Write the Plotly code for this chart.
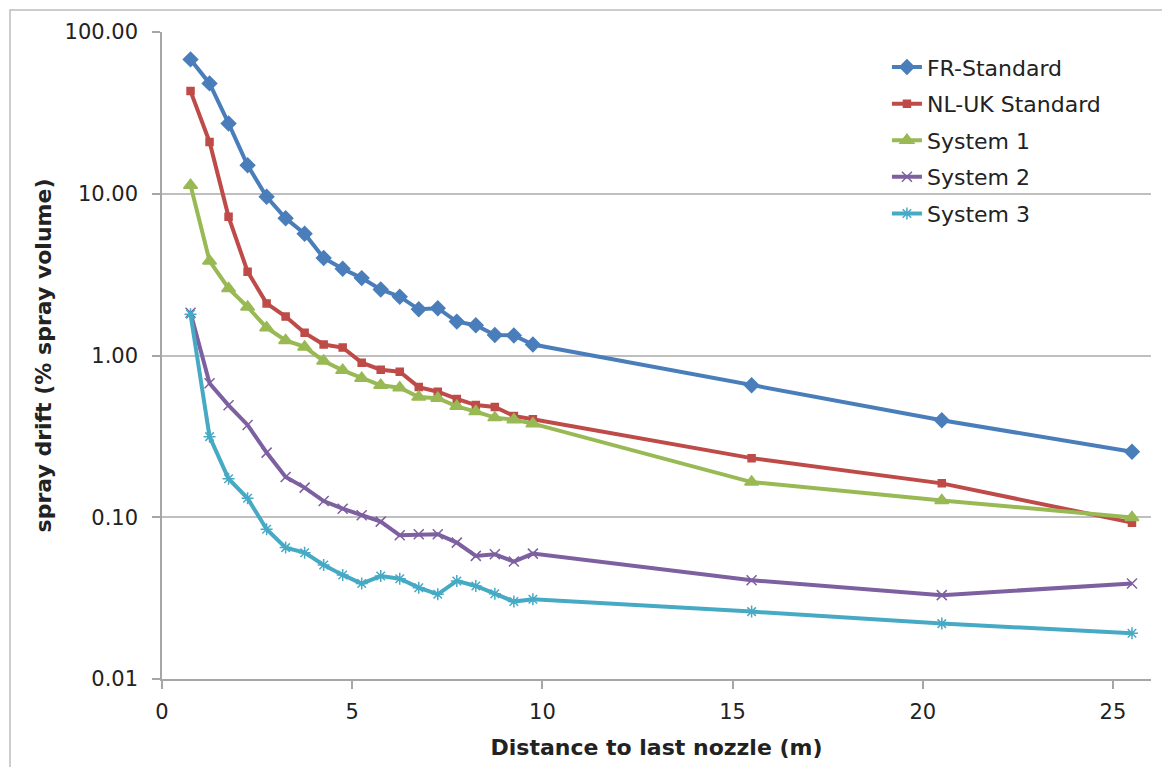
import plotly.graph_objects as go

x = [0.75, 1.25, 1.75, 2.25, 2.75, 3.25, 3.75, 4.25, 4.75, 5.25, 5.75, 6.25,
     6.75, 7.25, 7.75, 8.25, 8.75, 9.25, 9.75, 15.5, 20.5, 25.5]

fr_standard = [67.7, 48.1, 27.2, 15.0, 9.58, 7.05, 5.66, 4.01, 3.44, 3.01, 2.56, 2.31,
               1.93, 1.96, 1.62, 1.54, 1.34, 1.33, 1.17, 0.654, 0.398, 0.254]
nl_uk_standard = [43.1, 20.9, 7.2, 3.30, 2.10, 1.74, 1.38, 1.17, 1.12, 0.903, 0.817, 0.794,
                  0.638, 0.597, 0.539, 0.494, 0.481, 0.423, 0.403, 0.232, 0.162, 0.0926]
system_1 = [11.3, 3.84, 2.60, 1.995, 1.485, 1.24, 1.13, 0.925, 0.81, 0.723, 0.654, 0.632,
            0.554, 0.544, 0.485, 0.45, 0.413, 0.401, 0.379, 0.165, 0.127, 0.0998]
system_2 = [1.84, 0.673, 0.492, 0.372, 0.251, 0.1775, 0.1525, 0.126, 0.113, 0.1028, 0.094, 0.0774,
            0.0785, 0.0785, 0.0697, 0.0577, 0.059, 0.0532, 0.0596, 0.0408, 0.033, 0.0389]
system_3 = [1.80, 0.315, 0.173, 0.131, 0.0843, 0.0649, 0.0604, 0.0507, 0.044, 0.0389, 0.0433, 0.0417,
            0.0367, 0.0334, 0.0404, 0.0376, 0.0337, 0.0301, 0.0311, 0.0261, 0.022, 0.0192]

y_tickvals = [0.01, 0.1, 1, 10, 100]
y_ticktext = ["0.01", "0.10", "1.00", "10.00", "100.00"]

series = [
    ("FR-Standard", fr_standard, "#4A7EBB", "diamond", 11),
    ("NL-UK Standard", nl_uk_standard, "#BE4B48", "square", 7),
    ("System 1", system_1, "#98B954", "triangle-up", 12),
    ("System 2", system_2, "#7D60A0", "x-thin-open", 10),
    ("System 3", system_3, "#46AAC5", "asterisk-open", 10),
]

fig = go.Figure()
for i, (name, vals, color, sym, size) in enumerate(series):
    fig.add_trace(go.Scatter(
        x=x, y=vals, name=name, mode="lines+markers",
        legendgroup=f"g{i}",
        line=dict(color=color, width=4),
        marker=dict(symbol=sym, size=size, color=color,
                    line=dict(color=color, width=1.5)),
    ))

font_family = "DejaVu Sans, Verdana, sans-serif"

# page body has an 8px margin, so the figure is offset by 8px
L, R, T, B = 154, 27, 24, 96
PW = 1170 - L - R
PH = 767 - T - B

fig.update_layout(
    width=1170, height=767,
    margin=dict(l=L, r=R, t=T, b=B),
    paper_bgcolor="white", plot_bgcolor="white",
    font=dict(family=font_family, size=21, color="#222222"),
    showlegend=True,
    legend=dict(
        x=0.733, y=0.978, xanchor="left", yanchor="top",
        bgcolor="rgba(0,0,0,0)", borderwidth=0,
        font=dict(size=22, color="#222222"),
        tracegroupgap=5,
    ),
    xaxis=dict(
        range=[0, 26], dtick=5, tick0=0,
        showgrid=False, zeroline=False,
        showline=True, linecolor="#A6A6A6", linewidth=1.5,
        ticks="outside", ticklen=8, tickcolor="#A6A6A6", tickwidth=1.5,
        ticklabelstandoff=5,
        tickfont=dict(size=21, color="#222222"),
        title=dict(text="<b>Distance to last nozzle (m)</b>",
                   font=dict(size=22, color="#222222"), standoff=17),
    ),
    yaxis=dict(
        type="log", range=[-2, 2],
        tickvals=y_tickvals, ticktext=y_ticktext,
        showgrid=True, gridcolor="#BFBFBF", gridwidth=1.5,
        zeroline=False,
        showline=True, linecolor="#A6A6A6", linewidth=1.5,
        ticks="outside", ticklen=8, tickcolor="#A6A6A6", tickwidth=1.5,
        ticklabelstandoff=10,
        tickfont=dict(size=21, color="#222222"),
        title=dict(text="<b>spray drift (% spray volume)</b>",
                   font=dict(size=22, color="#222222"), standoff=7),
    ),
    shapes=[
        dict(type="rect", xref="paper", yref="paper",
             x0=(2 - L) / PW, x1=(1200 - L) / PW,
             y0=-(800 - T - PH) / PH, y1=(T + PH - 2) / PH,
             line=dict(color="#BDBDBD", width=1.5), fillcolor="rgba(0,0,0,0)",
             layer="below"),
    ],
)

fig.write_html("out.html")
